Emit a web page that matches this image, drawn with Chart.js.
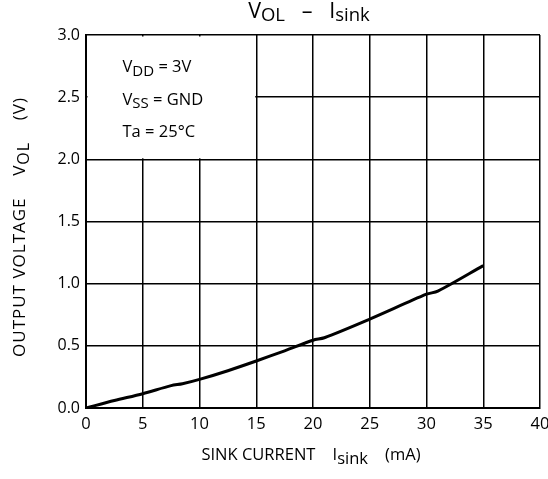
<!DOCTYPE html>
<html>
<head>
<meta charset="utf-8">
<script src="https://cdn.jsdelivr.net/npm/chart.js@4"></script>
<style>
  html, body { margin: 0; padding: 0; background: #fff; }
  #wrap { width: 548px; height: 479px; }
</style>
</head>
<body>
<div id="wrap"><canvas id="grafico"></canvas></div>
<script>
// datos
const corriente = [0, 2.5, 5, 7.5, 8.5, 10, 12.5, 15, 17.5, 20, 21, 25, 30, 31, 35]
const voltaje = [0, 0.06, 0.115, 0.18, 0.195, 0.23, 0.30, 0.378, 0.46, 0.545, 0.565, 0.715, 0.915, 0.94, 1.145]
const ticksX = [0, 5, 10, 15, 20, 25, 30, 35, 40]
const ticksY = [0, 0.5, 1.0, 1.5, 2.0, 2.5, 3.0]
const condiciones = [
  [["V", false], ["DD", true], [" = 3V", false]],
  [["V", false], ["SS", true], [" = GND", false]],
  [["Ta = 25°C", false]]
]

const fuente = "'Open Sans', 'DejaVu Sans', sans-serif"

// dibuja texto con subindices
function textoMixto(ctx, partes, x, y, tam, tamSub) {
  let cx = x
  partes.forEach(p => {
    ctx.font = (p[1] ? tamSub : tam) + "px " + fuente
    ctx.fillText(p[0], cx, p[1] ? y + 4 : y)
    cx += ctx.measureText(p[0]).width
  })
}

function anchoMixto(ctx, partes, tam, tamSub) {
  let ancho = 0
  partes.forEach(p => {
    ctx.font = (p[1] ? tamSub : tam) + "px " + fuente
    ancho += ctx.measureText(p[0]).width
  })
  return ancho
}

const pluginTextos = {
  id: "textos",
  beforeDatasetsDraw(chart) {
    const ctx = chart.ctx
    const sx = chart.scales.x
    const sy = chart.scales.y
    // recuadro blanco con las condiciones
    ctx.save()
    ctx.fillStyle = "#fff"
    const x0 = sx.getPixelForValue(0) + 1.5
    const x1 = sx.getPixelForValue(15) - 1
    const y0 = sy.getPixelForValue(3.0) + 1.5
    const y1 = sy.getPixelForValue(2.0) - 1
    ctx.fillRect(x0, y0, x1 - x0, y1 - y0)
    ctx.fillStyle = "#000"
    ctx.textBaseline = "middle"
    condiciones.forEach((linea, i) => {
      textoMixto(ctx, linea, x0 + 35, y0 + 31 + i * 32.5, 16.5, 15)
    })
    ctx.restore()
  },
  afterDraw(chart) {
    const ctx = chart.ctx
    ctx.save()
    ctx.fillStyle = "#000"
    ctx.textBaseline = "middle"
    // titulo
    const titulo = [["V", false], ["OL", true], ["   –   ", false], ["I", false], ["sink", true]]
    let w = anchoMixto(ctx, titulo, 21.5, 18.5)
    textoMixto(ctx, titulo, 309 - w / 2, 12, 21.5, 18.5)
    // eje x
    const ejeX = [["SINK CURRENT    I", false], ["sink", true], ["    (mA)", false]]
    w = anchoMixto(ctx, ejeX, 16.5, 16.5)
    textoMixto(ctx, ejeX, 311 - w / 2, 455, 16.5, 16.5)
    // eje y
    ctx.letterSpacing = "1px"
    const ejeY = [["OUTPUT VOLTAGE    V", false], ["OL", true], ["    (V)", false]]
    w = anchoMixto(ctx, ejeY, 17, 16)
    ctx.translate(20, 227)
    ctx.rotate(-Math.PI / 2)
    textoMixto(ctx, ejeY, -w / 2, 0, 17, 16)
    ctx.restore()
  }
}

const config = {
  type: "scatter",
  data: {
    datasets: [{
      data: corriente.map((c, i) => ({ x: c, y: voltaje[i] })),
      showLine: true,
      borderColor: "#000",
      borderWidth: 3,
      pointRadius: 0,
      tension: 0.3
    }]
  },
  options: {
    responsive: false,
    animation: false,
    events: [],
    layout: { padding: { top: 35, right: 8, left: 0, bottom: 0 } },
    plugins: { legend: { display: false }, tooltip: { enabled: false }, title: { display: false } },
    scales: {
      x: {
        type: "linear",
        min: 0,
        max: 40,
        afterBuildTicks: eje => { eje.ticks = ticksX.map(v => ({ value: v })) },
        afterFit: eje => { eje.height = 71; eje.paddingRight = 0; eje.paddingLeft = 0 },
        grid: { color: "#000", lineWidth: 1.5, drawTicks: false },
        border: { color: "#000", width: 2 },
        ticks: { color: "#000", padding: 6, font: { size: 16.5, family: fuente }, maxRotation: 0 }
      },
      y: {
        min: 0,
        max: 3,
        afterBuildTicks: eje => { eje.ticks = ticksY.map(v => ({ value: v })) },
        afterFit: eje => { eje.width = 86; eje.paddingTop = 0; eje.paddingBottom = 0 },
        grid: { color: "#000", lineWidth: 1.5, drawTicks: false },
        border: { color: "#000", width: 2 },
        ticks: { color: "#000", padding: 6, font: { size: 16, family: fuente }, callback: v => v.toFixed(1) }
      }
    }
  },
  plugins: [pluginTextos]
}

const lienzo = document.querySelector("#grafico")
lienzo.width = 548
lienzo.height = 479
new Chart(lienzo, config)
</script>
</body>
</html>
